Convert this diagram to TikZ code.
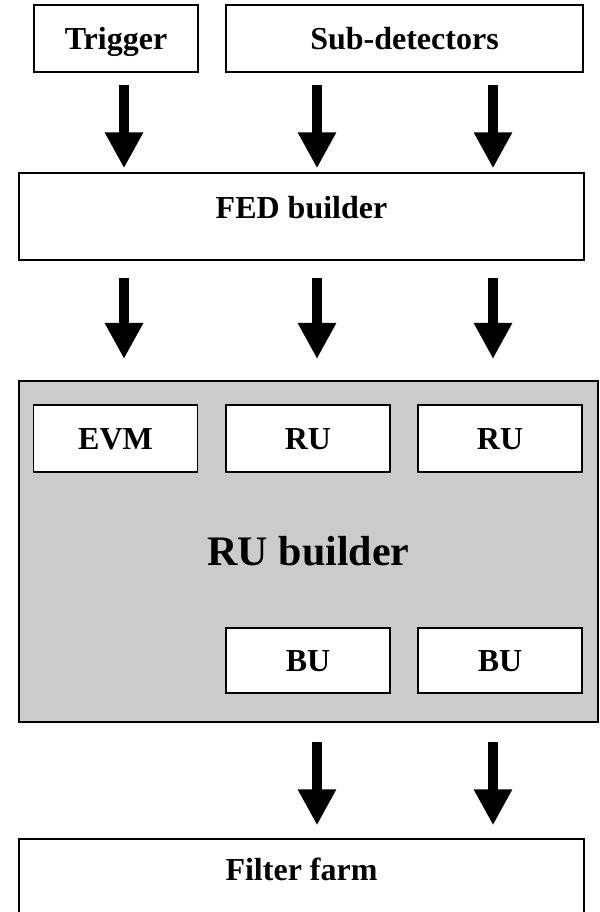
\documentclass[tikz,border=0pt]{standalone}
\usepackage{fontspec}
\setmainfont{Liberation Serif}
\usetikzlibrary{arrows.meta}
\definecolor{rugray}{HTML}{CBCBCB}

\begin{document}
\begin{tikzpicture}[x=0.75pt, y=-0.75pt, font=\bfseries\fontsize{24}{28}\selectfont,
    box/.style={draw=black, line width=1.3pt, fill=white, inner sep=0pt},
    unit/.style={box, minimum width=123pt, minimum height=50pt, text height=17pt, text depth=0pt},
    wide/.style={box, minimum width=424pt, minimum height=65pt, text depth=14pt},
    flow/.style={line width=7.2pt, -{Triangle[length=27pt, width=27pt]}},
  ]
  \useasboundingbox (0,0) rectangle (599,912);
  \clip (0,0) rectangle (599,912);

  % data sources and the FED builder
  \node[unit] (trig) at (116, 38.5) {Trigger};
  \node[unit, minimum width=268pt] (subdet) at (404.5, 38.5) {Sub-detectors};
  \node[wide] (fed) at (301.5, 216.5) {FED builder};

  % RU builder with its units
  \node[box, fill=rugray, minimum width=434pt, minimum height=256pt,
    font=\bfseries\fontsize{31.5}{36}\selectfont] (rub) at (308.5, 551.5) {RU builder};
  \node[unit] (evm) at (115.5, 438.5) {EVM};
  \node[unit] (ruA) at (308, 438.5) {RU};
  \node[unit] (ruB) at (500, 438.5) {RU};
  \node[unit, minimum height=49pt] (buA) at (308, 660.5) {BU};
  \node[unit, minimum height=49pt] (buB) at (500, 660.5) {BU};

  \node[wide, text depth=20pt] (farm) at (301.5, 882.5) {Filter farm};

  % columns of the data flow
  \coordinate (c1) at (124, 0);
  \coordinate (c2) at (317, 0);
  \coordinate (c3) at (493, 0);

  \draw[flow, shorten <=9pt, shorten >=3pt] (trig.south -| c1) -- (fed.north -| c1);
  \foreach \c in {c2, c3}
    \draw[flow, shorten <=9pt, shorten >=3pt] (subdet.south -| \c) -- (fed.north -| \c);
  \foreach \c in {c1, c2, c3}
    \draw[flow, shorten <=12.75pt, shorten >=15.75pt] (fed.south -| \c) -- (rub.north -| \c);
  \foreach \c in {c2, c3}
    \draw[flow, shorten <=14.25pt, shorten >=9.75pt] (rub.south -| \c) -- (farm.north -| \c);
\end{tikzpicture}
\end{document}
